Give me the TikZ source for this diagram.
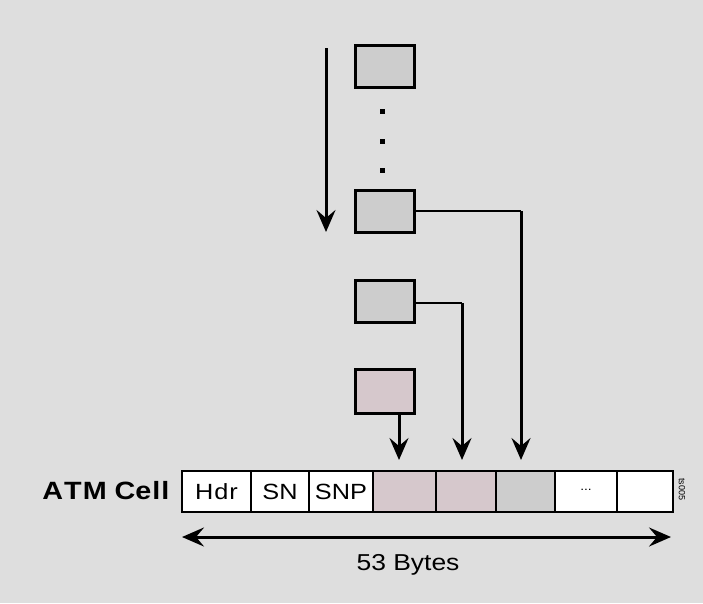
\documentclass[tikz,border=0pt]{standalone}
\usepackage{fontspec}
\setmainfont{Liberation Sans}
\newfontfamily\widefont[FakeStretch=1.15]{Liberation Sans}
\usetikzlibrary{arrows.meta,calc}
\definecolor{bg}{RGB}{222,222,222}
\definecolor{grayfill}{RGB}{205,205,205}
\definecolor{pinkfill}{RGB}{214,200,204}
\begin{document}
\begin{tikzpicture}[x=1pt,y=-1pt,
  box/.style={draw,line width=3pt,minimum width=59pt,minimum height=42pt,inner sep=0pt},
  field/.style={draw,line width=2.4pt,minimum height=41pt,inner sep=0pt,fill=white,font=\widefont\fontsize{22}{24}\selectfont},
  tip/.tip={Stealth[length=22pt,width=19pt,inset=8pt]},
  arr/.style={line width=3pt,-tip},
  conn/.style={line width=2.8pt}]
\fill[bg] (0,0) rectangle (703,603);
\useasboundingbox (0,0) rectangle (703,603);
% stacked boxes
\node[box,fill=grayfill] (b1) at (384.5,66) {};
\node[box,fill=grayfill] (b2) at (384.5,211.5) {};
\node[box,fill=grayfill] (b3) at (384.5,301) {};
\node[box,fill=pinkfill,minimum height=44pt] (b4) at (384.5,391) {};
\foreach \yy in {111,141,170}
  \fill (379.5,\yy-2.5) rectangle ++(5,5);
% vertical arrow
\coordinate (vs) at (326,48);
\coordinate (ve) at (326,232);
\draw[arr] (vs) -- (ve);
% ATM cell fields
\node[field] (hdr) at (216.5,491.5) [minimum width=69pt] {H\kern1pt d\kern1pt r};
\node[field] (sn)  at (280,491.5)   [minimum width=58pt] {SN};
\node[field] (snp) at (341,491.5)   [minimum width=64pt] {SNP};
\node[field,fill=pinkfill] (f4) at (404.5,491.5) [minimum width=63pt] {};
\node[field,fill=pinkfill] (f5) at (466,491.5)   [minimum width=60pt] {};
\node[field,fill=grayfill] (f6) at (525.5,491.5) [minimum width=59pt] {};
\node[field] (f7) at (586,491.5) [minimum width=62pt] {\fontsize{12}{14}\selectfont\raisebox{3pt}{...}};
\node[field] (f8) at (645,491.5) [minimum width=56pt] {};
\node[anchor=east,font=\widefont\bfseries\fontsize{25}{27}\selectfont] (lbl) at (173,491) {A\kern1pt T\kern1pt M Ce\kern1pt l\kern1pt l};
\node[rotate=-90,font=\fontsize{9}{10}\selectfont,inner sep=0pt] (fig) at (682,489) {ts005};
% connectors
\coordinate (c4) at (399,460);
\draw[arr] (b4.south -| c4) -- (c4);
\coordinate (k3) at (462,303);
\coordinate (c5) at (462,460);
\draw[conn] (b3.east |- k3) -- (k3);
\draw[arr] (k3) -- (c5);
\coordinate (k2) at (521,211);
\coordinate (c6) at (521,460);
\draw[conn] (b2.east |- k2) -- (k2);
\draw[arr] (k2) -- (c6);
% 53 bytes
\coordinate (la) at (182,537);
\coordinate (ra) at (671,537);
\draw[line width=3pt,tip-tip] (la) -- (ra);
\node[font=\widefont\fontsize{23}{25}\selectfont] (bytes) at (408,565) {53 Bytes};
\end{tikzpicture}
\end{document}
